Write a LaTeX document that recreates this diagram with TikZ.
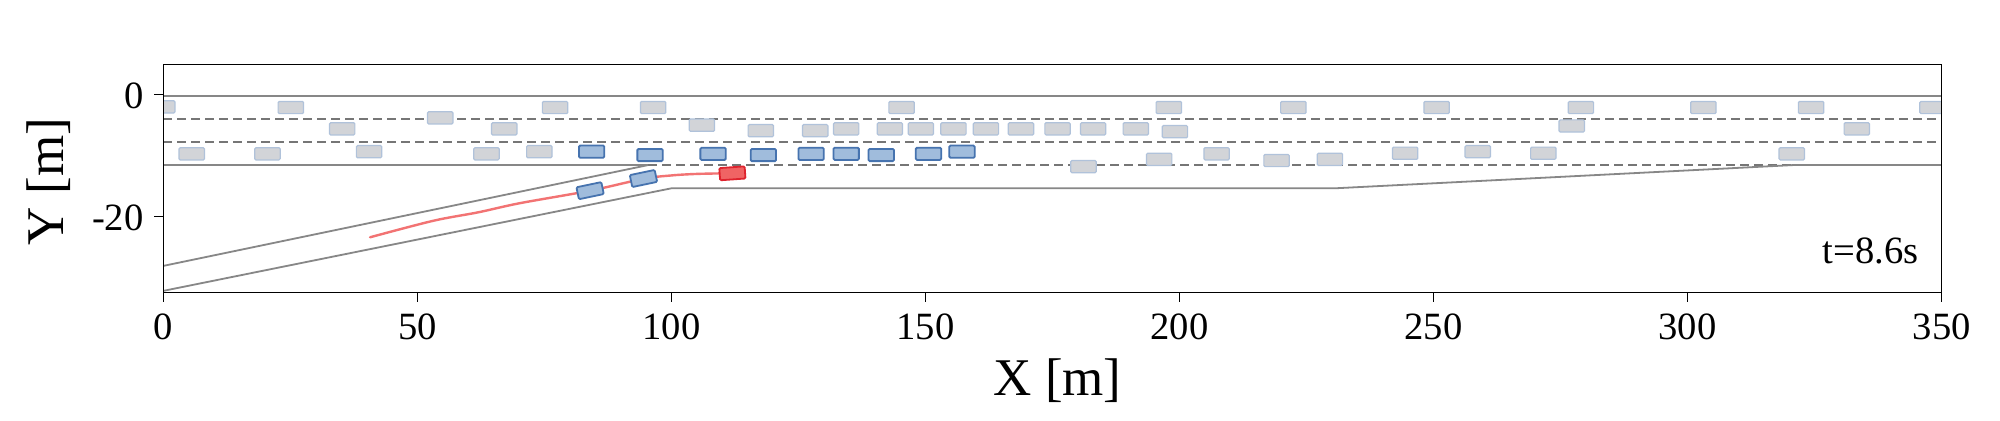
\documentclass[tikz,border=0pt]{standalone}
\usepackage{fontspec}
\setmainfont{Liberation Serif}
\definecolor{roadgray}{RGB}{135,135,135}
\definecolor{lanegray}{RGB}{118,118,118}
\definecolor{gfill}{RGB}{210,212,216}
\definecolor{gedge}{RGB}{176,194,218}
\definecolor{bfill}{RGB}{160,188,220}
\definecolor{bedge}{RGB}{70,115,175}
\definecolor{rfill}{RGB}{240,100,100}
\definecolor{redge}{RGB}{222,35,45}
\definecolor{trajred}{RGB}{242,115,115}
\begin{document}
\begin{tikzpicture}[
  roadline/.style={draw=roadgray, line width=0.9pt},
  laneline/.style={draw=lanegray, line width=0.85pt, dash pattern=on 4.3pt off 2.7pt},
  traj/.style={draw=trajred, line width=1.2pt, line cap=round},
  carbase/.style={rectangle, rounded corners=0.6pt, minimum width=12.7pt, minimum height=6.1pt, inner sep=0pt, outer sep=0pt},
  gcar/.style={carbase, draw=gedge, fill=gfill, line width=0.6pt},
  bcar/.style={carbase, draw=bedge, fill=bfill, line width=0.9pt},
  rcar/.style={carbase, draw=redge, fill=rfill, line width=0.9pt},
  axisline/.style={draw=black, line width=0.7pt},
  ticklbl/.style={font=\fontsize{19.3pt}{22pt}\selectfont, inner sep=0pt},
  axlbl/.style={font=\fontsize{26.5pt}{30pt}\selectfont, inner sep=0pt},
]
\useasboundingbox (0,0) rectangle (1000pt,210.5pt);
\fill[white] (0,0) rectangle (1000pt,210.5pt);
\begin{scope}[shift={(81.65pt,163.125pt)}, x=2.5405pt, y=3.0455pt]
  \begin{scope}
    \clip (0,-32.5) rectangle (350,5);
    % main road
    \draw[roadline] (0,-0.15) -- (350,-0.15);
    \draw[laneline] (0,-3.95) -- (350,-3.95);
    \draw[laneline] (0,-7.75) -- (350,-7.75);
    \coordinate (merge) at (95.4,-11.55);
    \coordinate (taperend) at (320.7,-11.55);
    \draw[roadline] (0,-11.55) -- (merge);
    \draw[laneline] (merge) -- (taperend);
    \draw[roadline] (taperend) -- (350,-11.55);
    % ramp
    \coordinate (rampup) at (0,-28.1);
    \coordinate (ramplow) at (0,-32.2);
    \coordinate (rampknee) at (100,-15.36);
    \coordinate (accend) at (230.6,-15.36);
    \draw[roadline] (rampup) -- (merge);
    \draw[roadline] (ramplow) -- (rampknee) -- (accend) -- (taperend);
    % ego trajectory
    \draw[traj] plot[smooth, tension=0.55] coordinates {(40.7,-23.4) (53.1,-20.7) (62,-19.3) (70.2,-17.8) (84,-15.75) (94.5,-13.8) (100,-13.25) (105,-13.0) (111,-12.9)};
    % surrounding vehicles
    \foreach \cx/\cy [count=\i] in {
      -0.2/-2.0, 25.1/-2.1, 54.5/-3.8, 35.2/-5.6, 67.1/-5.6, 5.6/-9.7, 20.5/-9.7, 40.5/-9.35, 63.6/-9.7, 74.0/-9.35,
      77.1/-2.1, 96.4/-2.1, 145.3/-2.1, 106.0/-5.0, 117.6/-5.9, 128.3/-5.9, 134.4/-5.6, 143.0/-5.6, 149.1/-5.6, 155.5/-5.6, 161.9/-5.6, 168.8/-5.6,
      197.9/-2.1, 222.4/-2.1, 250.6/-2.1, 176.0/-5.6, 183.0/-5.6, 191.4/-5.6, 199.1/-6.06,
      181.1/-11.8, 196.0/-10.6, 207.3/-9.7, 219.1/-10.8, 229.6/-10.6, 244.4/-9.6, 258.7/-9.35, 271.6/-9.6,
      279.0/-2.1, 303.1/-2.1, 324.3/-2.1, 348.2/-2.1, 277.2/-5.13, 333.3/-5.6, 320.5/-9.7}
      \node[gcar] (g\i) at (\cx,\cy) {};
    % controlled vehicles
    \foreach \cx/\cy [count=\i] in {84.3/-9.35, 95.8/-9.9, 108.2/-9.7, 118.1/-9.9, 127.5/-9.7, 134.4/-9.7, 141.3/-9.9, 150.6/-9.7, 157.2/-9.35}
      \node[bcar] (b\i) at (\cx,\cy) {};
    \node[bcar, rotate=11.8] (br1) at (84.0,-15.75) {};
    \node[bcar, rotate=11.8] (br2) at (94.5,-13.75) {};
    \node[rcar, rotate=4] (ego) at (112.0,-12.9) {};
  \end{scope}
  % axes
  \draw[axisline] (0,-32.5) rectangle (350,5);
  \foreach \v in {0,50,...,350} {
    \draw[axisline] (\v,-32.5) -- ++(0,-4.5pt);
    \node[ticklbl, anchor=base, yshift=-23.3pt] (xt\v) at (\v,-32.5) {\v};
  }
  \draw[axisline] (0,0) -- ++(-4.5pt,0);
  \draw[axisline] (0,-20) -- ++(-4.5pt,0);
  \node[ticklbl, anchor=east, xshift=-9.7pt, yshift=-0.8pt] (yt0) at (0,0) {0};
  \node[ticklbl, anchor=east, xshift=-9.7pt, yshift=-0.8pt] (yt20) at (0,-20) {-20};
\end{scope}
\node[axlbl, anchor=base] (xlabel) at (528.75pt,12.5pt) {X [m]};
\node[axlbl, anchor=base, rotate=90] (ylabel) at (31.65pt,119.65pt) {Y [m]};
\node[ticklbl, anchor=base east] (tlabel) at (959.5pt,78.85pt) {t=8.6s};
\end{tikzpicture}
\end{document}
